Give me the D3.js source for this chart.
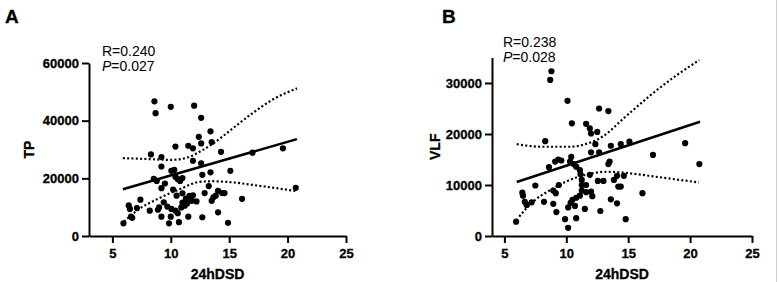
<!DOCTYPE html>
<html lang="en">

<head>
    <meta charset="UTF-8">
    <script src="https://d3js.org/d3.v7.min.js"></script>
    <title>24hDSD correlations</title>
    <style>
        body { margin: 0; background: #fff; }
        svg { display: block; font-family: "Liberation Sans", Arial, sans-serif; }
        .axis text { font-size: 13px; font-weight: bold; fill: black; stroke: black; stroke-width: 0.3px; }
        .axis line, .axis path { stroke: black; stroke-width: 2px; }
        .title { font-weight: bold; stroke: black; stroke-width: 0.3px; }
    </style>
</head>

<body>
    <div id="chart"></div>
    <script>
        // Panel A: 24hDSD vs TP
        const dsdA = [8.6, 8.7, 10.0, 12.0, 12.6, 13.4, 12.4, 12.6, 13.5, 10.4, 11.5, 11.9, 8.3, 9.2, 14.3, 17.0, 19.6,
            11.9, 12.6, 9.2, 10.05, 10.3, 13.4, 15.1, 12.7, 8.55, 8.8, 10.4, 10.6, 11.0, 10.8, 9.5, 9.2, 10.2, 13.25,
            11.0, 10.5, 11.6, 11.9, 12.9, 14.05, 14.4, 14.6, 13.85, 13.65, 13.5, 16.1, 20.7, 11.5, 11.8, 11.0, 11.2,
            10.9, 9.4, 8.9, 8.2, 7.4, 7.1, 6.4, 6.5, 6.6, 6.7, 5.95, 9.2, 10.0, 9.0, 9.7, 10.05, 10.4, 10.6, 9.85,
            10.7, 11.5, 12.7, 14.05, 14.9, 11.3, 12.2, 11.4];
        const tpValues = [46700, 42600, 44800, 45200, 41000, 36300, 34400, 32100, 32600, 31000, 31300, 30400, 28300,
            27400, 29200, 28900, 30400, 26100, 25200, 24100, 22600, 22900, 22100, 22600, 21200, 19800, 19100, 20500,
            19700, 20100, 19100, 18200, 16600, 16100, 17300, 14800, 14000, 13900, 14100, 14900, 15700, 14900, 14900,
            14000, 13400, 12200, 12900, 16700, 12600, 12200, 11600, 10500, 9900, 11700, 9100, 8800, 12600, 9700,
            10600, 9400, 6700, 6300, 4400, 6700, 6700, 9900, 10200, 9400, 8800, 7900, 4400, 4800, 6700, 6500, 8200,
            4600, 13000, 12000, 11300];
        const tpTicks = [0, 20000, 40000, 60000];
        const fitA = [[5.9, 16200], [20.8, 33600]];
        const upperA = [[5.9, 27000], [8.0, 26700], [10.0, 26400], [11.5, 27300], [12.5, 29300], [13.6, 32000],
            [15.3, 37300], [17.0, 42600], [18.8, 47500], [20.8, 51200]];
        const lowerA = [[6.0, 5000], [7.3, 9400], [8.8, 12700], [10.8, 16300], [12.5, 18800], [13.6, 19000],
            [15.0, 18700], [17.6, 17400], [20.7, 15600]];

        // Panel B: 24hDSD vs VLF
        const dsdB = [8.8, 8.7, 10.1, 12.65, 13.4, 10.45, 11.6, 11.9, 12.0, 12.5, 8.3, 12.35, 13.6, 14.4, 15.1, 19.6,
            17.0, 20.75, 12.0, 12.65, 10.4, 8.6, 9.1, 9.35, 9.6, 10.3, 10.6, 10.8, 11.1, 11.15, 11.9, 13.4, 13.5,
            14.1, 14.65, 13.85, 12.55, 13.0, 14.2, 14.4, 13.6, 14.1, 16.15, 14.8, 5.95, 6.45, 6.5, 6.65, 6.8, 7.2,
            7.5, 8.2, 8.95, 9.2, 8.95, 9.15, 9.4, 9.9, 10.15, 10.15, 10.35, 10.5, 10.7, 10.8, 11.1, 11.25, 11.25,
            11.6, 11.6, 12.0, 12.1, 11.5, 10.8, 12.75, 11.25];
        const vlfValues = [32300, 30600, 26500, 25000, 24500, 22100, 22000, 21100, 20100, 20400, 18600, 18000, 17700,
            18000, 18500, 18200, 15900, 14100, 16400, 16400, 15500, 13500, 14600, 15000, 14800, 14600, 14100, 13600,
            12900, 12100, 12000, 14100, 14600, 11800, 11800, 11000, 10800, 10800, 9700, 9700, 7200, 6400, 8400, 3300,
            2800, 8500, 7900, 6700, 6100, 6600, 9900, 6700, 6300, 4700, 8900, 8400, 10000, 3300, 1600, 5600, 6500,
            7100, 5900, 7500, 7900, 8900, 10000, 10000, 8600, 8700, 7800, 5300, 3500, 4900, 11000];
        const vlfTicks = [0, 10000, 20000, 30000];
        const fitB = [[6.0, 10600], [20.8, 22400]];
        const upperB = [[6.0, 18000], [8.0, 17500], [10.3, 17500], [11.9, 18300], [13.0, 19600], [14.6, 23000],
            [16.75, 27500], [18.9, 31500], [20.75, 34500]];
        const lowerB = [[6.2, 3800], [7.3, 6700], [8.7, 9000], [10.3, 11000], [11.9, 12200], [13.3, 12600],
            [15.1, 12300], [17.3, 11600], [20.7, 10500]];

        const xTicks = [5, 10, 15, 20, 25];

        // Create chart dimensions
        const width = 779;
        const height = 282;

        // Draw canvas
        const svg = d3.select("#chart")
            .append("svg")
            .attr("width", width)
            .attr("height", height);

        svg.append("rect")
            .attr("width", width)
            .attr("height", height)
            .attr("fill", "white");

        // faint scan edge on the right
        svg.append("line")
            .attr("x1", 776.5).attr("x2", 776.5)
            .attr("y1", 0).attr("y2", height)
            .attr("stroke", "#d4d4d4")
            .attr("stroke-width", 1);

        function styleAxis(g) {
            g.attr("class", "axis")
                .attr("font-family", null)
                .attr("font-size", null);
        }

        function drawPanel(p) {
            const xScale = d3.scaleLinear().domain(p.xDomain).range(p.xRange);
            const yScale = d3.scaleLinear().domain(p.yDomain).range(p.yRange);

            // Panel letter
            svg.append("text")
                .attr("class", "title")
                .attr("x", p.letterX)
                .attr("y", 23)
                .attr("font-size", 19)
                .text(p.letter);

            // Axes
            svg.append("g")
                .attr("transform", `translate(0,${p.yRange[0]})`)
                .call(d3.axisBottom(xScale).tickValues(xTicks).tickSize(7).tickPadding(6).tickSizeOuter(0))
                .call(styleAxis);

            svg.append("g")
                .attr("transform", `translate(${p.xRange[0]},0)`)
                .call(d3.axisLeft(yScale).tickValues(p.yTicks).tickSize(7).tickPadding(3).tickSizeOuter(0)
                    .tickFormat(d3.format("d")))
                .call(styleAxis);

            // Axis titles
            svg.append("text")
                .attr("class", "title")
                .attr("x", (p.xRange[0] + p.xRange[1]) / 2)
                .attr("y", 279)
                .attr("text-anchor", "middle")
                .attr("font-size", 14)
                .text("24hDSD");

            svg.append("text")
                .attr("class", "title")
                .attr("transform", `translate(${p.yLabelX},${(p.yRange[0] + p.yRange[1]) / 2}) rotate(-90)`)
                .attr("text-anchor", "middle")
                .attr("font-size", 14)
                .text(p.yLabel);

            // Stats
            const stats = svg.append("text")
                .attr("x", p.statX)
                .attr("y", p.statY)
                .attr("font-size", 14);
            stats.append("tspan").text(`R=${p.r}`);
            stats.append("tspan").attr("x", p.statX).attr("dy", 15).attr("font-style", "italic").text("P");
            stats.append("tspan").text(`=${p.p}`);

            // Confidence band
            const line = d3.line()
                .x(d => xScale(d[0]))
                .y(d => yScale(d[1]))
                .curve(d3.curveMonotoneX);

            [p.upper, p.lower].forEach(band => {
                svg.append("path")
                    .datum(band)
                    .attr("d", line)
                    .attr("fill", "none")
                    .attr("stroke", "black")
                    .attr("stroke-width", 2.2)
                    .attr("stroke-dasharray", "2,2.3");
            });

            // Points
            svg.append("g")
                .selectAll("circle")
                .data(p.xs.map((x, i) => [x, p.ys[i]]))
                .join("circle")
                .attr("cx", d => xScale(d[0]))
                .attr("cy", d => yScale(d[1]))
                .attr("r", 3.1)
                .attr("fill", "black");

            // Fit line
            svg.append("path")
                .datum(p.fit)
                .attr("d", d3.line().x(d => xScale(d[0])).y(d => yScale(d[1])))
                .attr("fill", "none")
                .attr("stroke", "black")
                .attr("stroke-width", 2.5);
        }

        drawPanel({
            letter: "A", letterX: 5,
            xDomain: [3, 25], xRange: [89, 346],
            yDomain: [0, 60000], yRange: [236, 63], yTicks: tpTicks,
            yLabel: "TP", yLabelX: 33.5,
            statX: 102, statY: 56, r: "0.240", p: "0.027",
            xs: dsdA, ys: tpValues, fit: fitA, upper: upperA, lower: lowerA
        });

        drawPanel({
            letter: "B", letterX: 442,
            xDomain: [4, 25], xRange: [492, 752],
            yDomain: [0, 35000], yRange: [236, 57.5], yTicks: vlfTicks,
            yLabel: "VLF", yLabelX: 440,
            statX: 503, statY: 47, r: "0.238", p: "0.028",
            xs: dsdB, ys: vlfValues, fit: fitB, upper: upperB, lower: lowerB
        });
    </script>
</body>

</html>
